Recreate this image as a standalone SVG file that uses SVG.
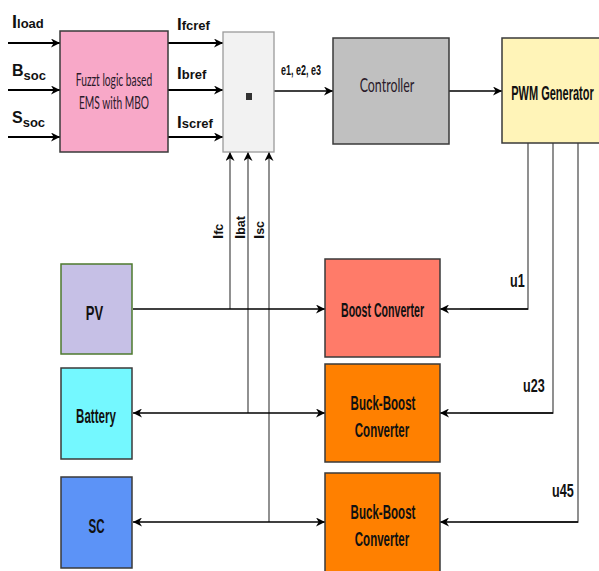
<svg xmlns="http://www.w3.org/2000/svg" width="599" height="571" viewBox="0 0 599 571">
<style>
  .box{stroke:#3a3a3a;stroke-width:1.5}
  .t{font-family:"Liberation Sans Narrow","Liberation Sans",Arial,sans-serif;font-weight:bold;fill:#111}
  .c{font-family:Lato,"Open Sans","Liberation Sans",sans-serif;fill:#2a1a2a}
  .thick{stroke:#000;stroke-width:2.2;fill:none}
  .med{stroke:#000;stroke-width:1.6;fill:none}
  .thin{stroke:#555;stroke-width:1.3;fill:none}
</style>
<defs>
  <marker id="arr" viewBox="0 0 10 10" refX="10" refY="5" markerWidth="9" markerHeight="9" markerUnits="userSpaceOnUse" orient="auto-start-reverse">
    <path d="M0,0 L10,5 L0,10 L3,5 z" fill="#000"/>
  </marker>
</defs>
<rect width="599" height="571" fill="#fff"/>

<g id="connectors">
  <line class="thick" x1="8" y1="43" x2="60" y2="43" marker-end="url(#arr)"/>
  <line class="thick" x1="8" y1="90" x2="60" y2="90" marker-end="url(#arr)"/>
  <line class="thick" x1="8" y1="137" x2="60" y2="137" marker-end="url(#arr)"/>
  <line class="thick" x1="168" y1="43" x2="223" y2="43" marker-end="url(#arr)"/>
  <line class="thick" x1="168" y1="90" x2="223" y2="90" marker-end="url(#arr)"/>
  <line class="thick" x1="168" y1="137" x2="223" y2="137" marker-end="url(#arr)"/>
  <line class="med" x1="274" y1="91" x2="333" y2="91" marker-end="url(#arr)"/>
  <line class="med" x1="449" y1="91" x2="502" y2="91" marker-end="url(#arr)"/>
  <line class="thin" x1="230" y1="309" x2="230" y2="152" marker-end="url(#arr)"/>
  <line class="thin" x1="248" y1="413" x2="248" y2="152" marker-end="url(#arr)"/>
  <line class="thin" x1="269" y1="522" x2="269" y2="152" marker-end="url(#arr)"/>
  <line class="med" x1="133" y1="309" x2="325" y2="309" marker-end="url(#arr)"/>
  <line class="med" x1="133" y1="413" x2="325" y2="413" marker-start="url(#arr)" marker-end="url(#arr)"/>
  <line class="med" x1="133" y1="522" x2="325" y2="522" marker-start="url(#arr)" marker-end="url(#arr)"/>
  <polyline class="thin" points="528,143 528,309 470,309"/>
  <polyline class="thin" points="553,143 553,413 470,413"/>
  <polyline class="thin" points="578,143 578,522 470,522"/>
  <line class="med" x1="528" y1="309" x2="440" y2="309" marker-end="url(#arr)"/>
  <line class="med" x1="553" y1="413" x2="440" y2="413" marker-end="url(#arr)"/>
  <line class="med" x1="578" y1="522" x2="440" y2="522" marker-end="url(#arr)"/>
</g>

<g id="labels">
  <text class="t" x="12" y="28"><tspan font-size="18">I</tspan><tspan font-size="13">load</tspan></text>
  <text class="t" x="12" y="76"><tspan font-size="16">B</tspan><tspan font-size="13" dy="4">soc</tspan></text>
  <text class="t" x="12" y="123"><tspan font-size="16">S</tspan><tspan font-size="13" dy="4">soc</tspan></text>
  <text class="t" x="177" y="30" font-size="13"><tspan font-size="17">I</tspan>fcref</text>
  <text class="t" x="177" y="79" font-size="13"><tspan font-size="17">I</tspan>bref</text>
  <text class="t" x="177" y="128" font-size="13"><tspan font-size="17">I</tspan>scref</text>
  <text class="t" transform="translate(281,75) scale(0.6,1)" font-size="15" font-weight="normal">e1, e2, e3</text>
  <text class="t" transform="translate(223,239) rotate(-90)" font-size="12.5"><tspan font-size="15">I</tspan>fc</text>
  <text class="t" transform="translate(245,239) rotate(-90)" font-size="12.5"><tspan font-size="15">I</tspan>bat</text>
  <text class="t" transform="translate(264,239) rotate(-90)" font-size="12.5"><tspan font-size="15">I</tspan>sc</text>
  <text class="t" transform="translate(510,287) scale(0.7,1)" font-size="18" font-weight="normal">u1</text>
  <text class="t" transform="translate(523,392) scale(0.7,1)" font-size="18" font-weight="normal">u23</text>
  <text class="t" transform="translate(552,497) scale(0.7,1)" font-size="18" font-weight="normal">u45</text>
</g>

<g id="ems">
  <rect class="box" x="60" y="31" width="108" height="121" fill="#F8A8C8"/>
  <text class="c" transform="translate(114,86) scale(0.62,1)" font-size="16.5" text-anchor="middle">Fuzzt logic based</text>
  <text class="c" transform="translate(114,109) scale(0.62,1)" font-size="16.5" text-anchor="middle">EMS with MBO</text>
</g>
<g id="sum">
  <rect x="223" y="32" width="51" height="120" fill="#F2F2F2" stroke="#9a9a9a" stroke-width="1.3"/>
  <rect x="246" y="93" width="6" height="7" fill="#333"/>
</g>
<g id="controller">
  <rect class="box" x="333" y="38" width="116" height="106" fill="#C0C0C0"/>
  <text class="c" transform="translate(387,92) scale(0.62,1)" font-size="20" text-anchor="middle" fill="#1a1a33">Controller</text>
</g>
<g id="pwm">
  <rect class="box" x="502" y="38" width="100" height="105" fill="#FFF4B8"/>
  <text class="t" transform="translate(552.5,100) scale(0.55,1)" font-size="20" text-anchor="middle">PWM Generator</text>
</g>
<g id="pv">
  <rect x="61" y="264" width="71" height="90" fill="#C6C0E6" stroke="#4D7A2E" stroke-width="1.5"/>
  <text class="t" transform="translate(94.5,320) scale(0.62,1)" font-size="21" font-weight="normal" text-anchor="middle">PV</text>
</g>
<g id="battery">
  <rect class="box" x="61" y="368" width="71" height="91" fill="#74F8FF" stroke="#4a6a70"/>
  <text class="t" transform="translate(96,423) scale(0.55,1)" font-size="21" text-anchor="middle">Battery</text>
</g>
<g id="sc">
  <rect class="box" x="61" y="477" width="71" height="91" fill="#5C93F7" stroke="#3f4a6a"/>
  <text class="t" transform="translate(96.5,533) scale(0.55,1)" font-size="21" text-anchor="middle">SC</text>
</g>
<g id="boost">
  <rect class="box" x="325" y="259" width="115" height="98" fill="#FF7B69"/>
  <text class="t" transform="translate(382.5,317) scale(0.53,1)" font-size="20" text-anchor="middle">Boost Converter</text>
</g>
<g id="buckboost1">
  <rect class="box" x="325" y="364" width="115" height="98" fill="#FF8000"/>
  <text class="t" transform="translate(383,410) scale(0.55,1)" font-size="21" text-anchor="middle">Buck-Boost</text>
  <text class="t" transform="translate(382,437) scale(0.55,1)" font-size="21" text-anchor="middle">Converter</text>
</g>
<g id="buckboost2">
  <rect class="box" x="325" y="473" width="115" height="102" fill="#FF8000"/>
  <text class="t" transform="translate(383,519) scale(0.55,1)" font-size="21" text-anchor="middle">Buck-Boost</text>
  <text class="t" transform="translate(382,546) scale(0.55,1)" font-size="21" text-anchor="middle">Converter</text>
</g>
</svg>
